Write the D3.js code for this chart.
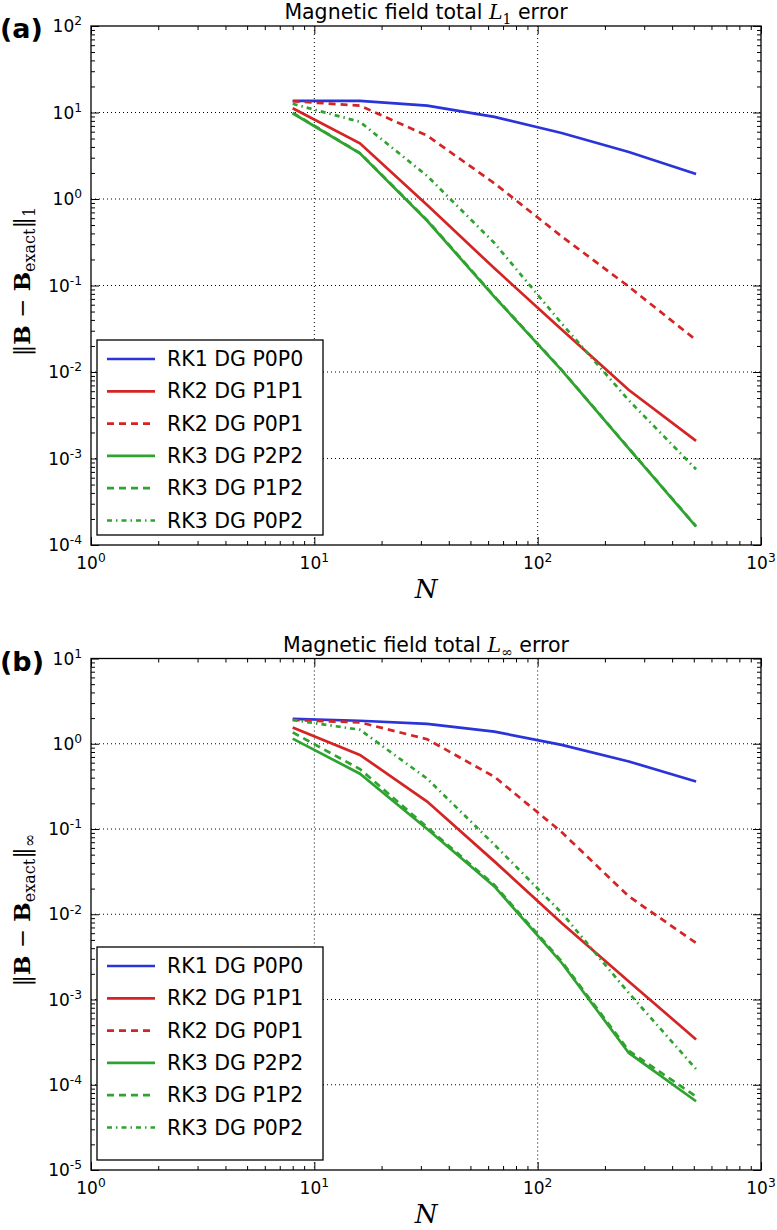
<!DOCTYPE html>
<html><head><meta charset="utf-8">
<script src="https://cdn.jsdelivr.net/npm/d3@7"></script>
<style>body{margin:0;background:#fff}</style>
</head><body>
<svg id="c" width="777" height="1230"></svg>
<script>
// ---- data ----
const N = [8, 16, 32, 64, 128, 256, 512];
const seriesNames = ["RK1 DG P0P0","RK2 DG P1P1","RK2 DG P0P1","RK3 DG P2P2","RK3 DG P1P2","RK3 DG P0P2"];
// panel (a): L1 error
const a_RK1_P0P0 = [13.6, 13.6, 12.0, 8.9, 5.8, 3.5, 1.95];
const a_RK2_P1P1 = [11.2, 4.4, 0.85, 0.158, 0.031, 0.0062, 0.0016];
const a_RK2_P0P1 = [13.5, 12.0, 5.4, 1.52, 0.37, 0.097, 0.0234];
const a_RK3_P2P2 = [9.8, 3.37, 0.56, 0.074, 0.0105, 0.0013, 0.000163];
const a_RK3_P1P2 = [9.9, 3.40, 0.57, 0.075, 0.0106, 0.00131, 0.000165];
const a_RK3_P0P2 = [12.6, 7.8, 1.85, 0.31, 0.0365, 0.0047, 0.00075];
// panel (b): L-infinity error
const b_RK1_P0P0 = [1.96, 1.86, 1.71, 1.39, 0.97, 0.62, 0.36];
const b_RK2_P1P1 = [1.55, 0.74, 0.21, 0.0417, 0.0079, 0.00163, 0.00034];
const b_RK2_P0P1 = [1.9, 1.78, 1.13, 0.41, 0.092, 0.0162, 0.0046];
const b_RK3_P2P2 = [1.15, 0.445, 0.1, 0.0212, 0.0027, 0.000236, 0.000064];
const b_RK3_P1P2 = [1.36, 0.505, 0.105, 0.022, 0.0028, 0.00025, 0.000073];
const b_RK3_P0P2 = [1.9, 1.46, 0.39, 0.0655, 0.0104, 0.00119, 0.000153];
const xTickExps = [0, 1, 2, 3];
const aYTickExps = [2, 1, 0, -1, -2, -3, -4];
const bYTickExps = [1, 0, -1, -2, -3, -4, -5];

// ---- styles ----
const BLUE = "#2a34d8", RED = "#d42424", GREEN = "#2fa32f";
const styles = [
  {color: BLUE, dash: null},
  {color: RED, dash: null},
  {color: RED, dash: "7,5"},
  {color: GREEN, dash: null},
  {color: GREEN, dash: "7,5"},
  {color: GREEN, dash: "5,4,1.5,4"}
];

const svg = d3.select("#c");
const FONT = "'DejaVu Sans', sans-serif";
const SERIF = "'DejaVu Serif', 'Liberation Serif', serif";

function expLabel(sel, exp) {
  sel.text("10");
  sel.append("tspan").attr("dy", "-0.55em").attr("font-size", "0.72em").text(exp < 0 ? "-" + (-exp) : exp);
}

function panel(cfg) {
  const L = 91, R = 761;
  const x = d3.scaleLog().domain([1, 1000]).range([L, R]);
  const y = d3.scaleLog().domain(cfg.yDomain).range([cfg.bottom, cfg.top]);
  const g = svg.append("g");

  // grid
  const xMaj = xTickExps.map(e => Math.pow(10, e));
  const yMaj = cfg.yExps.map(e => Math.pow(10, e));
  g.selectAll(".gx").data(xMaj.slice(1, -1)).join("line")
    .attr("x1", d => x(d)).attr("x2", d => x(d)).attr("y1", cfg.top).attr("y2", cfg.bottom)
    .attr("stroke", "#000").attr("stroke-width", 1).attr("stroke-dasharray", "1,3");
  g.selectAll(".gy").data(yMaj.slice(1, -1)).join("line")
    .attr("y1", d => y(d)).attr("y2", d => y(d)).attr("x1", L).attr("x2", R)
    .attr("stroke", "#000").attr("stroke-width", 1).attr("stroke-dasharray", "1,3");

  // minor ticks values
  const xMin = [];
  for (let e = 0; e < 3; e++) for (let k = 2; k <= 9; k++) xMin.push(k * Math.pow(10, e));
  const yMin = [];
  const e0 = Math.round(Math.log10(cfg.yDomain[0])), e1 = Math.round(Math.log10(cfg.yDomain[1]));
  for (let e = e0; e < e1; e++) for (let k = 2; k <= 9; k++) yMin.push(k * Math.pow(10, e));

  function axes(axisFn, scale, maj, mins, transform) {
    g.append("g").attr("transform", transform)
      .call(axisFn(scale).tickValues(maj).tickSize(-8).tickFormat(""))
      .call(s => s.select(".domain").remove());
    g.append("g").attr("transform", transform)
      .call(axisFn(scale).tickValues(mins).tickSize(-4).tickFormat(""))
      .call(s => s.select(".domain").remove());
  }
  axes(d3.axisBottom, x, xMaj, xMin, `translate(0,${cfg.bottom})`);
  axes(d3.axisTop, x, xMaj, xMin, `translate(0,${cfg.top})`);
  axes(d3.axisLeft, y, yMaj, yMin, `translate(${L},0)`);
  axes(d3.axisRight, y, yMaj, yMin, `translate(${R},0)`);
  g.selectAll(".tick line").attr("stroke", "#000").attr("stroke-width", 1);

  // tick labels
  xTickExps.forEach(e => {
    g.append("text").attr("x", x(Math.pow(10, e))).attr("y", cfg.bottom + 24)
      .attr("text-anchor", "middle").attr("font-family", FONT).attr("font-size", 17)
      .call(s => expLabel(s, e));
  });
  cfg.yExps.forEach(e => {
    g.append("text").attr("x", L - 9).attr("y", y(Math.pow(10, e)) + 6)
      .attr("text-anchor", "end").attr("font-family", FONT).attr("font-size", 17)
      .call(s => expLabel(s, e));
  });

  // lines
  const line = d3.line().x((d, i) => x(N[i])).y(d => y(d));
  cfg.series.forEach((vals, i) => {
    g.append("path").datum(vals).attr("d", line)
      .attr("fill", "none").attr("stroke", styles[i].color).attr("stroke-width", 2.7)
      .attr("stroke-dasharray", styles[i].dash);
  });

  // frame
  g.append("rect").attr("x", L).attr("y", cfg.top).attr("width", R - L).attr("height", cfg.bottom - cfg.top)
    .attr("fill", "none").attr("stroke", "#000").attr("stroke-width", 1.3);

  // title
  const t = g.append("text").attr("x", (L + R) / 2).attr("y", cfg.top - 7)
    .attr("text-anchor", "middle").attr("font-family", FONT).attr("font-size", 20.5);
  t.append("tspan").text("Magnetic field total ");
  t.append("tspan").attr("font-family", SERIF).attr("font-style", "italic").text("L");
  t.append("tspan").attr("font-family", SERIF).attr("font-size", 14).attr("dy", 5).text(cfg.sub);
  t.append("tspan").attr("dy", -5).text(" error");

  // panel label
  svg.append("text").attr("x", 0).attr("y", cfg.top + 12).attr("font-family", FONT)
    .attr("font-weight", "bold").attr("font-size", 27).text(cfg.label);

  // x label
  g.append("text").attr("x", (L + R) / 2).attr("y", cfg.bottom + 53).attr("text-anchor", "middle")
    .attr("font-family", SERIF).attr("font-style", "italic").attr("font-size", 26).text("N");

  // y label
  const cy = (cfg.top + cfg.bottom) / 2 - 4;
  const yl = g.append("text").attr("transform", `translate(30,${cy}) rotate(-90)`)
    .attr("text-anchor", "middle").attr("font-family", SERIF).attr("font-size", 23);
  yl.append("tspan").text("\u2016");
  yl.append("tspan").attr("font-weight", "bold").text("B");
  yl.append("tspan").text(" \u2212 ");
  yl.append("tspan").attr("font-weight", "bold").text("B");
  yl.append("tspan").attr("font-size", 16).attr("dy", 5).text("exact");
  yl.append("tspan").attr("dy", -5).text("\u2016");
  yl.append("tspan").attr("font-size", 16).attr("dy", 5).text(cfg.ysub);

  // legend
  const lg = g.append("g");
  lg.append("rect").attr("x", 97).attr("y", cfg.legTop).attr("width", 226).attr("height", cfg.legH)
    .attr("fill", "#fff").attr("stroke", "#000").attr("stroke-width", 1.3);
  const rowH = 32.3;
  seriesNames.forEach((nm, i) => {
    const yy = cfg.legTop + 19 + i * rowH;
    lg.append("line").attr("x1", 107).attr("x2", 155).attr("y1", yy).attr("y2", yy)
      .attr("stroke", styles[i].color).attr("stroke-width", 2.7).attr("stroke-dasharray", styles[i].dash);
    lg.append("text").attr("x", 167).attr("y", yy + 7).attr("font-family", FONT).attr("font-size", 20.5).text(nm);
  });
}

panel({top: 26, bottom: 545, yDomain: [1e-4, 1e2], yExps: aYTickExps, sub: "1", ysub: "1", label: "(a)",
  legTop: 340, legH: 195,
  series: [a_RK1_P0P0, a_RK2_P1P1, a_RK2_P0P1, a_RK3_P2P2, a_RK3_P1P2, a_RK3_P0P2]});
panel({top: 658.5, bottom: 1170, yDomain: [1e-5, 1e1], yExps: bYTickExps, sub: "\u221E", ysub: "\u221E", label: "(b)",
  legTop: 947, legH: 213,
  series: [b_RK1_P0P0, b_RK2_P1P1, b_RK2_P0P1, b_RK3_P2P2, b_RK3_P1P2, b_RK3_P0P2]});
</script>
</body></html>
